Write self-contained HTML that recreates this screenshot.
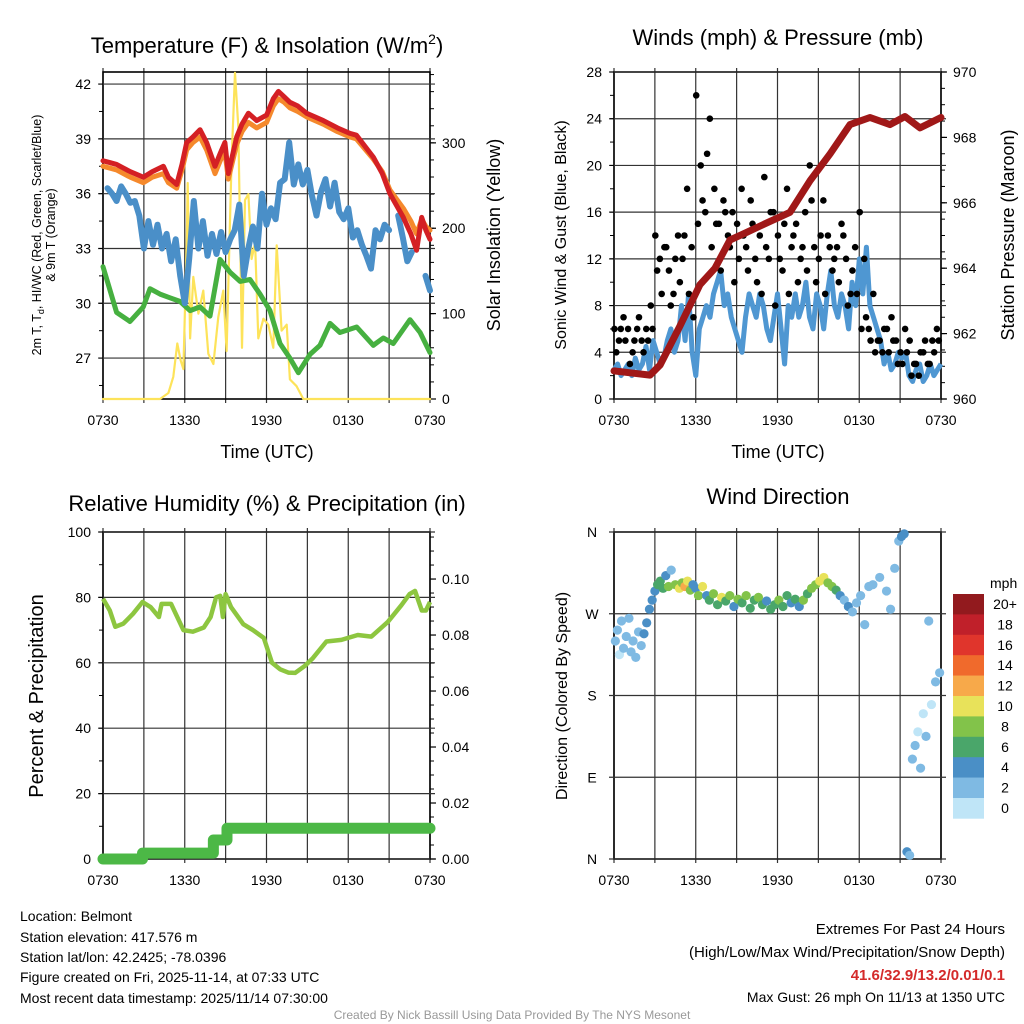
<!DOCTYPE html>
<html><head><meta charset="utf-8">
<style>
html,body{margin:0;padding:0;background:#fff;}
svg{display:block;font-family:"Liberation Sans",Arial,sans-serif;}
</style></head>
<body>
<svg id="chart" width="1024" height="1024" viewBox="0 0 1024 1024" xmlns="http://www.w3.org/2000/svg">
<rect width="1024" height="1024" fill="#fff"/>
<g id="layer"></g>
<text x="267" y="53" font-size="22" text-anchor="middle">Temperature (F) &amp; Insolation (W/m<tspan font-size="14" dy="-9">2</tspan><tspan dy="9">)</tspan></text>
<text x="778" y="45" font-size="22" text-anchor="middle">Winds (mph) &amp; Pressure (mb)</text>
<text x="267" y="511" font-size="22" text-anchor="middle">Relative Humidity (%) &amp; Precipitation (in)</text>
<text x="778" y="504" font-size="22" text-anchor="middle">Wind Direction</text>
<text x="267" y="458" font-size="18" text-anchor="middle">Time (UTC)</text>
<text x="778" y="458" font-size="18" text-anchor="middle">Time (UTC)</text>
<text transform="translate(41,235) rotate(-90)" font-size="12.5" text-anchor="middle">2m T, T<tspan font-size="9" dy="3">d</tspan><tspan dy="-3">, HI/WC (Red, Green, Scarlet/Blue)</tspan></text>
<text transform="translate(55,235) rotate(-90)" font-size="12.5" text-anchor="middle">&amp; 9m T (Orange)</text>
<text transform="translate(500,235) rotate(-90)" font-size="18" text-anchor="middle">Solar Insolation (Yellow)</text>
<text transform="translate(566,235) rotate(-90)" font-size="16" text-anchor="middle">Sonic Wind &amp; Gust (Blue, Black)</text>
<text transform="translate(1014,235) rotate(-90)" font-size="18" text-anchor="middle">Station Pressure (Maroon)</text>
<text transform="translate(43,696) rotate(-90)" font-size="20" text-anchor="middle">Percent &amp; Precipitation</text>
<text transform="translate(567,696) rotate(-90)" font-size="16" text-anchor="middle">Direction (Colored By Speed)</text>
<text x="990" y="588" font-size="14">mph</text>
<g font-size="14">
<text x="20" y="921">Location: Belmont</text>
<text x="20" y="942">Station elevation: 417.576 m</text>
<text x="20" y="962">Station lat/lon: 42.2425; -78.0396</text>
<text x="20" y="982">Figure created on Fri, 2025-11-14, at 07:33 UTC</text>
<text x="20" y="1003">Most recent data timestamp: 2025/11/14 07:30:00</text>
</g>
<g font-size="15" text-anchor="end">
<text x="1005" y="934">Extremes For Past 24 Hours</text>
<text x="1005" y="957">(High/Low/Max Wind/Precipitation/Snow Depth)</text>
<text x="1005" y="980" fill="#d42a2a" font-weight="bold">41.6/32.9/13.2/0.01/0.1</text>
<text x="1005" y="1002" font-size="14">Max Gust: 26 mph On 11/13 at 1350 UTC</text>
</g>
<text x="512" y="1019" font-size="12" fill="#999" text-anchor="middle">Created By Nick Bassill Using Data Provided By The NYS Mesonet</text>
</svg>
<script>
// ---------- data ----------
const xTickLabels = ["0730","1330","1930","0130","0730"];
const tempTicks = [27,30,33,36,39,42];
const solarTicks = [0,100,200,300];
const windTicks = [0,4,8,12,16,20,24,28];
const pressTicks = [960,962,964,966,968,970];
const rhTicks = [0,20,40,60,80,100];
const precipTicks = [0,0.02,0.04,0.06,0.08,0.10];
const dirLabels = ["N","E","S","W","N"];
const speedBinLabels = ["0","2","4","6","8","10","12","14","16","18","20+"];

const redTime = [0,0.5,1,1.5,2,2.96,3.6,4.43,4.8,5.41,5.8,6.14,6.6,7.12,7.6,8.22,8.6,8.95,9.2,9.81,10.2,10.67,11.28,12.01,12.5,12.87,13.3,13.72,14.3,14.95,16.17,17.2,18.13,18.6,19.84,20.5,21.06,22.04,22.6,23.02,23.39,23.7,24];
const redVal = [37.8,37.7,37.6,37.4,37.2,36.9,37.2,37.5,36.9,36.5,37.6,38.8,39.1,39.5,38.8,37.5,38.2,38.8,37.1,39.1,39.8,40.4,40.0,40.3,41.2,41.6,41.3,41.0,40.8,40.4,40.0,39.6,39.3,39.2,38.0,37.1,36.0,34.7,33.8,32.9,34.7,34.0,33.5];
const orangeVal = [37.5,37.4,37.3,37.1,36.9,36.6,36.9,37.1,36.6,36.3,37.3,38.4,38.8,39.1,38.4,37.1,37.8,38.3,36.8,38.7,39.4,39.9,39.6,39.9,40.8,41.2,41.0,40.7,40.5,40.2,39.8,39.4,39.1,39.0,37.9,37.2,36.2,35.2,34.5,33.8,34.6,34.2,34.0];
const blueVal = [null,36.3,36.0,35.6,36.4,36.0,35.5,35.6,34.8,33.0,34.5,33.2,34.3,33.0,33.8,32.3,33.5,31.5,30.0,32.5,35.6,33.0,34.5,32.6,33.8,32.7,33.9,32.8,33.5,34.0,35.4,31.5,33.0,34.2,33.0,36.0,34.3,35.2,34.6,36.6,36.8,38.8,36.5,37.6,36.5,37.3,35.9,34.8,36.1,36.8,35.3,36.6,35.0,34.6,35.2,33.6,34.0,33.2,32.6,31.9,34.0,33.5,34.3,34.0,null,34.8,33.6,32.3,32.8,null,null,31.5,30.7];
const greenTime = [0,1,1.98,2.96,3.45,4.18,4.92,5.65,6.39,7.12,7.85,8.59,9.32,10.06,10.79,11.52,12.26,12.99,13.72,14.34,15.19,15.93,16.66,17.39,18.62,19.84,20.57,21.31,22.53,23.27,24];
const greenVal = [32.0,29.5,29.0,29.8,30.8,30.5,30.3,30.1,29.6,29.8,29.3,32.4,31.7,31.2,31.3,30.5,29.6,27.8,27.0,26.2,27.2,27.7,28.9,28.4,28.7,27.7,28.1,27.8,29.1,28.4,27.3];
const solarTime = [0,4.18,4.8,5.16,5.45,5.7,5.9,6.14,6.22,6.39,6.63,7.0,7.36,7.73,8.1,8.46,8.83,9.07,9.44,9.69,9.93,10.2,10.42,10.67,10.91,11.16,11.4,11.77,12.13,12.5,12.75,13.11,13.48,13.72,14.21,14.7,24];
const solarVal = [0,0,7,26,65,45,35,183,253,71,143,100,127,53,41,96,127,56,280,382,319,60,233,240,164,183,71,94,87,60,180,80,87,23,15,0,0];

const pressTime = [0,2.64,3.38,4.84,6.31,7.41,8.51,9.61,11.45,12.92,14.39,15.86,17.32,18.79,20.26,21.36,22.46,24];
const pressVal = [960.86,960.73,961.04,962.23,963.5,964.0,964.86,965.07,965.43,965.71,966.68,967.5,968.39,968.61,968.39,968.64,968.29,968.61];
const sonicVal = [2.5,3,2,2.5,3,2,3.5,2.5,3,4.5,2.5,5,4,3,3.5,5,6,4,5,8,5,9,4,2,6,7,8,7,9,10,11,8,9,7,6,5,4,7,9,8,7,9,8,6,5,7,9,6,3,8,7,9,7,8,10,7,6,9,8,6,9,11,8,7,9,8,6,10,8,12,9,13,8,7,6,5,3,4,2.5,3,4,3.5,4,2,1.5,2.5,3,1.5,2,3,2,2.5,3];
const gustVal = [6,5,7,6,4,6,5,6,8,14,12,13,11,9,14,12,18,13,26,20,16,24,18,15,17,14,16,15,18,13,17,12,14,19,12,16,14,11,18,13,15,12,16,20,13,12,17,14,11,13,15,12,9,13,16,12,6,9,5,4,6,7,5,4,6,5,3,2,4,3,5,6];
const gustVal2 = [4,6,5,3,5,7,4,5,6,11,9,13,8,12,10,14,9,7,15,17,21,13,15,11,16,13,10,12,14,11,15,10,9,13,16,8,12,15,9,14,10,13,11,17,10,14,9,13,12,10,14,8,11,9,6,7,5,4,5,6,4,5,3,3,4,2,3,4,5,3,4,5];

const rhTime = [0,0.5,0.9,1.5,2.2,2.9,3.5,4.1,4.3,5.0,5.9,6.6,7.4,7.9,8.3,8.6,8.8,9.0,9.4,10.3,11.0,11.8,12.4,13.0,13.6,14.1,14.8,15.4,16.4,17.5,18.7,19.7,20.9,21.9,22.5,22.9,23.4,23.7,24];
const rhVal = [79.6,76,71,72,75,78.6,77,74,78,78,70,69.5,70.8,74,80,80.5,74,81,77,71.8,70,67.6,60,58,57,56.9,59,61.4,66.5,67,68.5,68,72.5,77.6,81,82,76,76,78.6];
const precipTime = [0,2.9,8.1,9.1,24];
const precipVal = [0,0.0021,0.0068,0.011,0.011];

const dirTime = [0.1,0.25,0.4,0.55,0.7,0.9,1.1,1.25,1.4,1.6,1.8,2.0,2.2,2.4,2.6,2.8,3.0,3.2,3.4,3.6,3.8,4.0,4.2,4.5,4.8,5.0,5.2,5.4,5.6,5.8,6.0,6.2,6.5,6.8,7.0,7.3,7.6,7.9,8.2,8.5,8.8,9.1,9.4,9.7,10.0,10.3,10.6,10.9,11.2,11.5,11.8,12.1,12.4,12.7,13.0,13.3,13.6,13.9,14.2,14.5,14.8,15.1,15.4,15.7,16.0,16.3,16.6,16.9,17.2,17.5,17.8,18.1,18.4,18.7,19.0,19.5,20.0,20.3,20.6,20.9,21.1,21.3,21.5,21.7,21.9,22.1,22.3,22.5,22.7,22.9,23.1,23.3,23.6,23.9];
const dirVal = [240,252,225,262,232,245,265,228,240,222,250,235,248,260,275,285,295,302,306,298,312,300,318,302,298,304,300,306,296,302,298,290,300,290,285,292,280,288,284,290,278,286,282,290,276,285,288,280,284,275,280,285,278,290,282,286,278,285,292,298,302,306,310,304,300,296,290,285,278,272,282,290,258,300,302,310,295,275,320,350,355,358,8,4,110,125,140,100,160,135,262,170,195,205];
const dirSpd = [2,2,1,3,2,3,2,2,3,2,3,2,4,4,5,4,5,6,6,6,4,8,3,8,10,9,12,10,8,4,5,8,10,4,7,9,7,10,6,8,5,8,7,9,6,7,8,6,5,6,7,8,7,6,4,7,5,8,7,8,9,10,11,9,8,6,5,3,4,3,3,2,3,3,3,2,2,2,2,3,4,4,4,2,2,2,1,2,1,2,2,1,2,2];
const binColors = ["#bfe5f7","#7fbae3","#4a8fc6","#4aa66a","#82c34a","#e8e25a","#f7a94a","#f06a2c","#e0352c","#c0202a","#921a1e"];

// ---------- helpers ----------
const NS = "http://www.w3.org/2000/svg";
const layer = document.getElementById('layer');
function mk(tag, attrs, parent){ const e=document.createElementNS(NS,tag); for(const k in attrs) e.setAttribute(k,attrs[k]); (parent||layer).appendChild(e); return e; }
function lin(d0,d1,r0,r1){ return v => r0 + (v-d0)/(d1-d0)*(r1-r0); }
function pathFrom(ts, vs, X, Y){ let d='', pen=false; for(let i=0;i<ts.length;i++){ if(ts[i]===null||vs[i]===null){pen=false;continue;} d += (pen?'L':'M')+X(ts[i]).toFixed(1)+','+Y(vs[i]).toFixed(1); pen=true; } return d; }
function evenTimes(arr){ return arr.map((v,i)=>i*24/(arr.length-1)); }

function frame(name, x0,y0,w,h){
  const g = mk('g',{});
  
  
  const X = lin(0,24,x0,x0+w);
  for(let i=0;i<=8;i++){
    const x = X(i*3);
    mk('line',{x1:x,x2:x,y1:y0-4,y2:y0+h+4,stroke:'#333','stroke-width':1.2},g);
  }
  for(let i=0;i<5;i++){
    const t = mk('text',{x:X(i*6),y:y0+h+26,'font-size':14,'text-anchor':'middle'},g);
    t.textContent = xTickLabels[i];
    
    
  }
  mk('rect',{x:x0,y:y0,width:w,height:h,fill:'none',stroke:'#000','stroke-width':1.6},g);
  return X;
}
function yAxis(g, ticks, Y, x0, x1, side, grid, minorStep, lo, hi, fmt){
  ticks.forEach((v,i)=>{
    const y=Y(v);
    if(grid) mk('line',{x1:x0-5,x2:x1+5,y1:y,y2:y,stroke:'#333','stroke-width':1.2},g);
    else mk('line',{x1:side==='l'?x0-6:x1,x2:side==='l'?x0:x1+6,y1:y,y2:y,stroke:'#000','stroke-width':1.2},g);
    const t=mk('text',{x:side==='l'?x0-12:x1+12,y:y+5,'font-size':14,'text-anchor':side==='l'?'end':'start'},g);
    t.textContent = fmt?fmt(v):v;
    
    
  });
  if(minorStep){
    for(let v=lo; v<=hi+1e-9; v+=minorStep){
      const y=Y(v);
      if(side==='l') mk('line',{x1:x0-4,x2:x0,y1:y,y2:y,stroke:'#000','stroke-width':1},g);
      else mk('line',{x1:x1,x2:x1+4,y1:y,y2:y,stroke:'#000','stroke-width':1},g);
    }
  }
}

// ---------- Panel 1: temperature ----------
(function(){
  const x0=103,y0=72,w=327,h=327;
  const X = frame('temperature', x0,y0,w,h);
  const Yt = lin(24.76,42.66,y0+h,y0);
  const Ys = lin(0,383,y0+h,y0);
  const g = mk('g',{});
  
  
  yAxis(g,tempTicks,Yt,x0,x0+w,'l',true,1.5,25.5,42);
  yAxis(g,solarTicks,Ys,x0,x0+w,'r',false,20,0,380);
  const blueTime = evenTimes(blueVal);
  const series = [
    ['solar-line', solarTime, solarVal, Ys, '#fde35a', 2.2],
    ['wind-chill-line', greenTime, greenVal, Yt, '#46b040', 5],
    ['dewpoint-line', blueTime, blueVal, Yt, '#4a8fc8', 6],
    ['temp-9m-line', redTime, orangeVal, Yt, '#f5892c', 5],
    ['temp-2m-line', redTime, redVal, Yt, '#d42024', 5]
  ];
  series.forEach(s=>{
    const p = mk('path',{d:pathFrom(s[1],s[2],X,s[3]),fill:'none',stroke:s[4],'stroke-width':s[5],'stroke-linejoin':'round','stroke-linecap':'round'});
    
    
  });
})();

// ---------- Panel 2: winds ----------
(function(){
  const x0=614,y0=72,w=327,h=327;
  const X = frame('winds', x0,y0,w,h);
  const Yw = lin(0,28,y0+h,y0);
  const Yp = lin(960,970,y0+h,y0);
  const g = mk('g',{});
  
  
  yAxis(g,windTicks,Yw,x0,x0+w,'l',true,2,0,28);
  yAxis(g,pressTicks,Yp,x0,x0+w,'r',false,0.5,960,970);
  const sonicTime = evenTimes(sonicVal);
  const sp = mk('path',{d:pathFrom(sonicTime,sonicVal,X,Yw),fill:'none',stroke:'#4f97d2','stroke-width':5,'stroke-linejoin':'round'});
  
  
  [gustVal,gustVal2].forEach((arr,k)=>{
    arr.forEach((v,i)=>{
      const t = (i + (k?0.5:0.1))*24/arr.length;
      const c = mk('circle',{cx:X(t),cy:Yw(v),r:3.3,fill:'#000'});
      
      
    });
  });
  const pp = mk('path',{d:pathFrom(pressTime,pressVal,X,Yp),fill:'none',stroke:'#a01818','stroke-width':7,'stroke-linejoin':'round','stroke-linecap':'round'});
  
  
})();

// ---------- Panel 3: humidity ----------
(function(){
  const x0=103,y0=532,w=327,h=327;
  const X = frame('humidity', x0,y0,w,h);
  const Yr = lin(0,100,y0+h,y0);
  const Yp = lin(0,0.1168,y0+h,y0);
  const g = mk('g',{});
  
  
  yAxis(g,rhTicks,Yr,x0,x0+w,'l',true,10,0,100);
  yAxis(g,precipTicks,Yp,x0,x0+w,'r',false,0.005,0,0.115,v=>v.toFixed(2));
  let d='';
  for(let i=0;i<precipTime.length;i++){
    const x=X(precipTime[i]), y=Yp(precipVal[i]);
    if(i===0) d+='M'+x+','+y; else d+='L'+x+','+Yp(precipVal[i-1])+'L'+x+','+y;
  }
  const pp = mk('path',{d:d,fill:'none',stroke:'#4cb846','stroke-width':11,'stroke-linecap':'round','stroke-linejoin':'round'});
  
  
  const rp = mk('path',{d:pathFrom(rhTime,rhVal,X,Yr),fill:'none',stroke:'#8dc640','stroke-width':4.5,'stroke-linejoin':'round'});
  
  
})();

// ---------- Panel 4: wind direction ----------
(function(){
  const x0=614,y0=532,w=327,h=327;
  const X = frame('wind-direction', x0,y0,w,h);
  const Yd = lin(0,360,y0+h,y0);
  const g = mk('g',{});
  
  
  const dirTicks=[0,90,180,270,360];
  dirTicks.forEach((v,i)=>{
    const y=Yd(v);
    mk('line',{x1:x0-5,x2:x0+w+5,y1:y,y2:y,stroke:'#333','stroke-width':1.2},g);
    const t=mk('text',{x:x0-22,y:y+5,'font-size':14,'text-anchor':'middle'},g);
    t.textContent=dirLabels[i];
    
    
  });
  dirTime.forEach((t,i)=>{
    const b = Math.min(10, Math.floor(dirSpd[i]/2));
    const c = mk('circle',{cx:X(t),cy:Yd(dirVal[i]),r:4.6,fill:binColors[b]});
    
    
  });
  const cb = mk('g',{});
  
  
  const top=594, bh=20.4;
  for(let i=0;i<11;i++){
    const idx=10-i;
    mk('rect',{x:953,y:top+i*bh,width:31,height:bh+0.3,fill:binColors[idx]},cb);
    const t=mk('text',{x:1005,y:top+i*bh+15,'font-size':14,'text-anchor':'middle'},cb);
    t.textContent=speedBinLabels[idx];
    
    
  }
})();
</script>
</body></html>
